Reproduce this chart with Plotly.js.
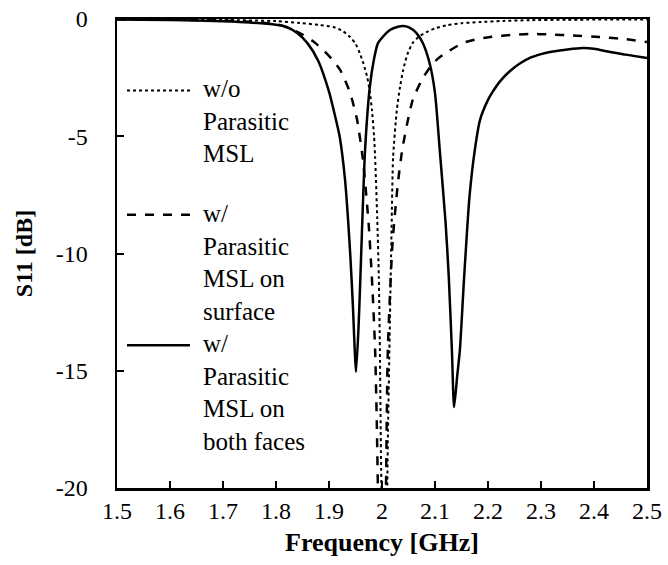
<!DOCTYPE html>
<html>
<head>
<meta charset="utf-8">
<script src="https://cdn.plot.ly/plotly-3.0.1.min.js"></script>
<style>
  html, body { margin: 0; padding: 0; background: #fff; }
  #chart { width: 668px; height: 565px; }
</style>
</head>
<body>
<div id="chart"></div>
<script>
// ---- Data ----
const freqWo = [1.5, 1.6, 1.7, 1.8, 1.845, 1.88, 1.908, 1.925, 1.94, 1.95, 1.958, 1.965, 1.972, 1.977, 1.981, 1.985, 1.987, 1.991, 1.994, 1.996, 1.998, 1.9995, 2.0045, 2.0095, 2.011, 2.014, 2.018, 2.021, 2.028, 2.034, 2.04, 2.048, 2.058, 2.07, 2.085, 2.1, 2.123, 2.15, 2.185, 2.23, 2.279, 2.35, 2.5];
const s11Wo  = [-0.01, -0.02, -0.04, -0.09, -0.17, -0.25, -0.34, -0.5, -0.77, -1.05, -1.45, -1.9, -2.47, -3.1, -3.88, -5.0, -5.88, -8.5, -11.0, -14.1, -18.5, -21, -35, -21, -18, -14.1, -9.0, -5.88, -3.88, -2.9, -2.17, -1.5, -1.02, -0.75, -0.55, -0.4, -0.26, -0.18, -0.13, -0.08, -0.05, -0.03, -0.02];

const freqSurface = [1.5, 1.6, 1.7, 1.75, 1.8, 1.808, 1.845, 1.87, 1.889, 1.905, 1.921, 1.93, 1.94, 1.953, 1.964, 1.975, 1.982, 1.987, 1.99, 1.993, 2.0, 2.007, 2.011, 2.02, 2.03, 2.038, 2.048, 2.058, 2.075, 2.091, 2.105, 2.123, 2.153, 2.18, 2.204, 2.25, 2.279, 2.317, 2.36, 2.411, 2.46, 2.5];
const s11Surface  = [-0.02, -0.03, -0.07, -0.12, -0.22, -0.26, -0.6, -0.95, -1.32, -1.7, -2.17, -2.6, -3.16, -4.3, -6.0, -8.8, -11.5, -14.1, -17.0, -21, -30, -21, -14.1, -9.5, -7.0, -5.6, -4.4, -3.45, -2.6, -2.05, -1.7, -1.41, -1.02, -0.86, -0.77, -0.67, -0.64, -0.66, -0.7, -0.77, -0.86, -0.98];

const freqBoth = [1.5, 1.6, 1.7, 1.75, 1.8, 1.82, 1.84, 1.86, 1.88, 1.9, 1.91, 1.92, 1.93, 1.94, 1.945, 1.951, 1.956, 1.96, 1.968, 1.977, 1.985, 1.992, 2.0, 2.015, 2.03, 2.04, 2.05, 2.065, 2.077, 2.09, 2.1, 2.109, 2.12, 2.126, 2.132, 2.136, 2.142, 2.147, 2.155, 2.165, 2.175, 2.185, 2.2, 2.209, 2.223, 2.24, 2.26, 2.28, 2.3, 2.317, 2.35, 2.379, 2.4, 2.43, 2.46, 2.5];
const s11Both  = [-0.02, -0.04, -0.1, -0.15, -0.25, -0.34, -0.6, -1.05, -1.8, -3.1, -4.0, -5.0, -6.8, -10.0, -12.2, -15.05, -13.0, -10.5, -5.6, -2.9, -1.7, -1.05, -0.8, -0.47, -0.33, -0.3, -0.35, -0.6, -1.02, -1.9, -3.16, -5.6, -8.7, -11.0, -14.2, -16.55, -15.2, -14.1, -11.0, -7.6, -5.6, -4.3, -3.45, -3.1, -2.65, -2.25, -1.9, -1.65, -1.5, -1.41, -1.3, -1.24, -1.27, -1.41, -1.52, -1.66];

const seriesNames = ["w/o<br>Parasitic<br>MSL", "w/<br>Parasitic<br>MSL on<br>surface", "w/<br>Parasitic<br>MSL on<br>both faces"];
const seriesDash = ["dot", "dash", "solid"];
const xTickVals = [1.5, 1.6, 1.7, 1.8, 1.9, 2.0, 2.1, 2.2, 2.3, 2.4, 2.5];
const xTickText = ["1.5", "1.6", "1.7", "1.8", "1.9", "2", "2.1", "2.2", "2.3", "2.4", "2.5"];
const yTickVals = [0, -5, -10, -15, -20];
const yTickText = ["0", "-5", "-10", "-15", "-20"];

const FONT = "'Liberation Serif', 'Times New Roman', Times, 'DejaVu Serif', serif";

const xs = [freqWo, freqSurface, freqBoth];
const ys = [s11Wo, s11Surface, s11Both];
const widths = [2, 2.5, 2.5];

const traces = xs.map((x, i) => ({
  x: x, y: ys[i], name: seriesNames[i], mode: "lines", showlegend: false,
  line: { color: "#000", width: widths[i], dash: seriesDash[i], shape: "spline", smoothing: 0.6 }
}));

// Legend drawn inside the plot area (line sample + multi-line label)
const legendTop = [0.8843, 0.6194, 0.3412];   // paper y of label box tops
const legendLineY = [0.8475, 0.5826, 0.3044]; // paper y of sample lines
const shapes = legendLineY.map((yy, i) => ({
  type: "line", xref: "paper", yref: "paper", x0: 0.0189, x1: 0.1377, y0: yy, y1: yy,
  line: { color: "#000", width: widths[i], dash: seriesDash[i] }
}));
const annotations = legendTop.map((yy, i) => ({
  xref: "paper", yref: "paper", x: 0.158, y: yy, xanchor: "left", yanchor: "top",
  align: "left", showarrow: false, text: seriesNames[i],
  font: { family: FONT, size: 25, color: "#000" }
}));

const layout = {
  width: 668, height: 565,
  margin: { l: 117, r: 21, t: 19, b: 77 },
  paper_bgcolor: "#fff", plot_bgcolor: "#fff",
  font: { family: FONT, color: "#000", size: 24 },
  showlegend: false,
  shapes: shapes,
  annotations: annotations,
  xaxis: {
    range: [1.5, 2.5], tickmode: "array", tickvals: xTickVals, ticktext: xTickText,
    ticks: "inside", ticklen: 7, tickwidth: 2, tickcolor: "#000",
    showline: true, linewidth: 2.5, linecolor: "#000", mirror: true,
    showgrid: false, zeroline: false, ticklabelstandoff: 0,
    tickfont: { family: FONT, size: 24, color: "#000" },
    title: { text: "<b>Frequency [GHz]</b>", font: { family: FONT, size: 26, color: "#000" }, standoff: 10 }
  },
  yaxis: {
    range: [-20, 0], tickmode: "array", tickvals: yTickVals, ticktext: yTickText,
    ticks: "inside", ticklen: 7, tickwidth: 2, tickcolor: "#000",
    showline: true, linewidth: 2.5, linecolor: "#000", mirror: true,
    showgrid: false, zeroline: false, ticklabelstandoff: 22,
    tickfont: { family: FONT, size: 24, color: "#000" },
    title: { text: "<b>S11 [dB]</b>", font: { family: FONT, size: 24, color: "#000" }, standoff: 17 }
  }
};

Plotly.newPlot("chart", traces, layout, { displayModeBar: false, staticPlot: true });
</script>
</body>
</html>
